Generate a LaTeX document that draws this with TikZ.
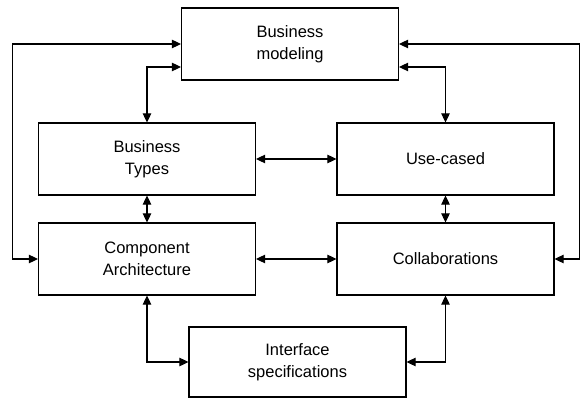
\documentclass[tikz,border=0pt]{standalone}
\usepackage{fontspec}
\setmainfont{Liberation Sans}
\usetikzlibrary{arrows.meta}

\begin{document}
\begin{tikzpicture}[x=1pt, y=-1pt,
  box/.style={draw, line width=1.2pt, minimum width=217pt, minimum height=72pt,
    align=center, font=\fontsize{16.5}{21.5}\selectfont},
  link/.style={line width=1.1pt, {Triangle[length=9pt,width=8.5pt]}-{Triangle[length=9pt,width=8.5pt]}}]
  \useasboundingbox (0,0) rectangle (583,398);

  \node[box] (bm) at (290,44) {Business\\modeling};
  \node[box] (bt) at (147,159) {Business\\Types};
  \node[box] (uc) at (445.5,159) {Use-cased};
  \node[box] (ca) at (147,259) {Component\\Architecture};
  \node[box] (coll) at (445.5,259) {Collaborations};
  \node[box, minimum height=70pt] (is) at (297.5,362) {Interface\\specifications};

  % outer loops
  \draw[link] (bm.west) -- ++(-168,0) |- (ca.west);
  \draw[link] (bm.east) -- ++(180,0) |- (coll.east);
  \draw[link] ([yshift=-23pt]bm.west) -| (bt.north);
  \draw[link] ([yshift=-23pt]bm.east) -| (uc.north);

  \draw[link] (bt.east) -- (uc.west);
  \draw[link] (bt.south) -- (ca.north);
  \draw[link] (uc.south) -- (coll.north);
  \draw[link] (ca.east) -- (coll.west);

  \draw[link] (ca.south) |- (is.west);
  \draw[link] (coll.south) |- (is.east);
\end{tikzpicture}
\end{document}
